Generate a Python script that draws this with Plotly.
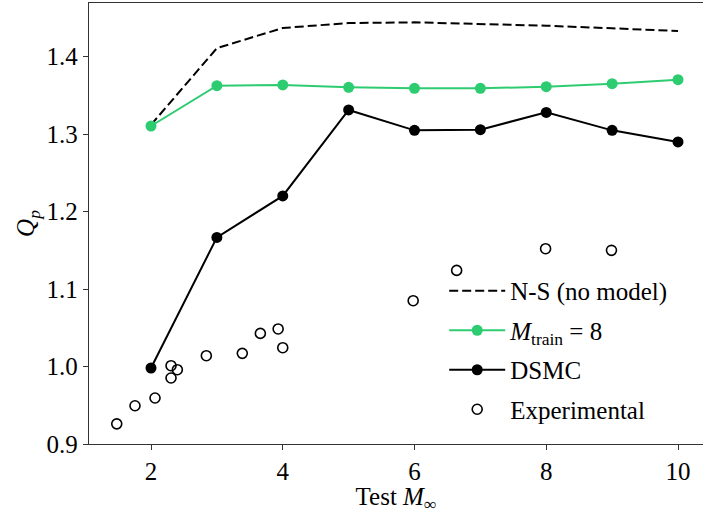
import plotly.graph_objects as go

# Test Mach numbers
mach = [2, 3, 4, 5, 6, 7, 8, 9, 10]

# Pressure coefficient peak Q_p for each case
q_ns = [1.312, 1.411, 1.437, 1.4435, 1.4443, 1.4426, 1.440, 1.4366, 1.4332]
q_train8 = [1.3105, 1.3626, 1.3635, 1.3604, 1.3591, 1.3591, 1.3613, 1.3651, 1.3703]
q_dsmc = [0.9981, 1.1667, 1.2202, 1.3312, 1.3049, 1.3058, 1.3281, 1.3049, 1.2899]

# Experimental measurements
exp_mach = [1.48, 1.757, 2.061, 2.304, 2.304, 2.40, 2.84, 3.386, 3.66, 3.93, 4.00, 5.98, 6.64, 7.99, 8.99]
exp_q = [0.926, 0.9494, 0.9594, 1.0011, 0.9852, 0.9959, 1.014, 1.017, 1.0428, 1.0485, 1.0243,
         1.085, 1.1241, 1.1521, 1.150]

x_ticks = [2, 4, 6, 8, 10]
y_ticks = [0.9, 1.0, 1.1, 1.2, 1.3, 1.4]
y_tick_text = ["0.9", "1.0", "1.1", "1.2", "1.3", "1.4"]

FONT = "Liberation Serif"
GREEN = "#2ecc71"

fig = go.Figure()
fig.add_trace(go.Scatter(
    x=mach, y=q_ns, mode="lines", name="N-S (no model)", legendgroup="a",
    line=dict(color="black", width=2, dash="9px,4px"),
))
fig.add_trace(go.Scatter(
    x=mach, y=q_train8, mode="lines+markers", name="<i>M</i><sub>train</sub> = 8",
    legendgroup="b",
    line=dict(color=GREEN, width=2), marker=dict(color=GREEN, size=11),
))
fig.add_trace(go.Scatter(
    x=mach, y=q_dsmc, mode="lines+markers", name="DSMC", legendgroup="c",
    line=dict(color="black", width=2), marker=dict(color="black", size=11),
))
fig.add_trace(go.Scatter(
    x=exp_mach, y=exp_q, mode="markers", name="Experimental", legendgroup="d",
    marker=dict(symbol="circle-open", color="black", size=10, line=dict(width=1.6)),
))

fig.update_layout(
    width=703, height=514,
    margin=dict(l=89, r=0, t=3, b=70),
    plot_bgcolor="white", paper_bgcolor="white",
    font=dict(family=FONT, size=25, color="black"),
    showlegend=True,
    legend=dict(
        x=0.5785, y=0.3991, xanchor="left", yanchor="top",
        bgcolor="rgba(255,255,255,0)", borderwidth=0,
        tracegroupgap=4, itemwidth=56,
        font=dict(family=FONT, size=25),
    ),
)
fig.update_xaxes(
    range=[1.0588, 10.3795], tickvals=x_ticks, ticktext=[str(v) for v in x_ticks],
    showgrid=False, zeroline=False, showline=True, linecolor="#333", linewidth=1.3,
    mirror=True, ticks="outside", ticklen=5, tickwidth=1.3, tickcolor="#333",
    title=dict(text="Test <i>M</i><sub>∞</sub>", standoff=4, font=dict(size=25)),
)
fig.update_yaxes(
    range=[0.9, 1.4693], tickvals=y_ticks, ticktext=y_tick_text,
    showgrid=False, zeroline=False, showline=True, linecolor="#333", linewidth=1.3,
    ticks="outside", ticklen=5, tickwidth=1.3, tickcolor="#333",
    title=dict(text="<i>Q</i><sub><i>p</i></sub>", standoff=4, font=dict(size=25)),
)

fig.write_html("out.html")
